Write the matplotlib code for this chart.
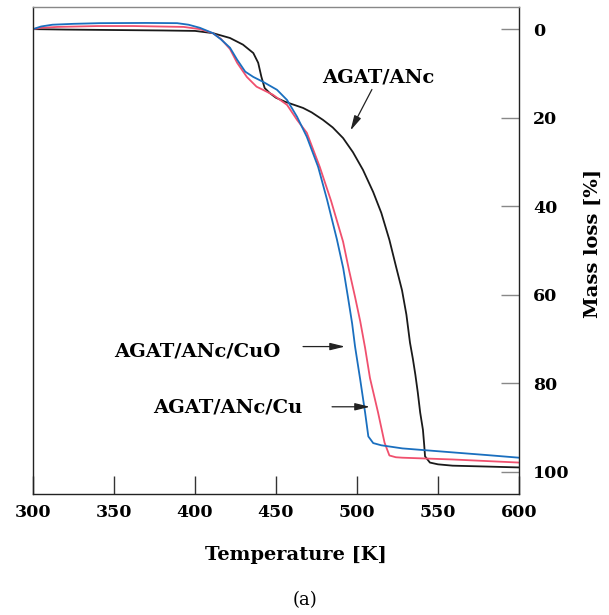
import matplotlib
matplotlib.use("Agg")
import matplotlib.pyplot as plt

# AGAT/ANc (black)
t_anc = [300, 320, 350, 380, 400, 411, 421.6, 429.6, 436, 439, 441, 443, 446, 450,
         455.6, 466.7, 472, 479, 485, 491.4, 497.5, 503.7, 510, 515, 520, 524, 527.8,
         530.5, 532.7, 534.5, 536, 537.5, 539, 540.7, 541.5, 542, 545, 550, 559, 580, 600]
m_anc = [0.0, 0.1, 0.2, 0.3, 0.4, 0.9, 2.0, 3.5, 5.4, 7.6, 10.8, 13.3, 14.4, 15.5,
         16.4, 17.8, 18.8, 20.5, 22.2, 24.6, 27.8, 31.8, 36.8, 41.5, 47.6, 53.5, 59.0,
         64.5, 70.8, 74.5, 78.0, 82.0, 86.6, 90.5, 94.0, 96.5, 97.9, 98.3, 98.6, 98.8, 99.0]

# AGAT/ANc/CuO (blue)
t_cuo = [300, 305, 312, 325, 341, 370, 389, 396, 403, 411, 416, 421.6, 426, 431, 436,
         442, 450.6, 456.8, 463, 469, 476, 481.5, 487.6, 491.5, 494.4, 497, 498.8, 502,
         505, 507, 510, 515, 528, 559, 580, 600]
m_cuo = [0.0, -0.6, -1.0, -1.2, -1.35, -1.4, -1.35, -1.0, -0.3, 0.9, 2.3, 4.2, 6.9, 9.6, 10.8,
         11.9, 13.7, 16.0, 19.8, 24.3, 31.1, 38.5, 47.5, 54.0, 60.5, 66.5, 71.7, 79.2,
         86.6, 92.0, 93.5, 94.0, 94.7, 95.6, 96.2, 96.8]

# AGAT/ANc/Cu (red)
t_cu = [300, 305, 315, 340, 362, 393, 403, 411, 416, 421.6, 426, 432, 438, 448, 456.8,
        463, 469, 477, 484, 491.4, 495, 498.8, 502, 505, 508, 513, 517, 520, 524, 528,
        559, 600]
m_cu = [0.0, -0.3, -0.5, -0.7, -0.7, -0.5, 0.0, 0.9, 2.2, 4.5, 7.6, 10.8, 13.0, 14.8, 17.1,
        20.5, 23.4, 31.1, 38.8, 48.0, 54.3, 60.5, 66.0, 72.0, 78.8, 86.6, 93.4, 96.3, 96.7, 96.8,
        97.2, 97.9]

x_ticks = [300, 350, 400, 450, 500, 550, 600]
y_ticks = [0, 20, 40, 60, 80, 100]

plt.rcParams['font.family'] = ['DejaVu Serif']

fig = plt.figure(figsize=(6.09, 6.15), dpi=100)
ax = fig.add_axes([33 / 609, 1 - 494 / 615, 486 / 609, 487 / 615])

ax.plot(t_anc, m_anc, color='#1a1a1a', lw=1.3)
ax.plot(t_cu, m_cu, color='#f0506e', lw=1.3)
ax.plot(t_cuo, m_cuo, color='#1a6fbf', lw=1.3)

ax.set_xlim(300, 600)
ax.set_ylim(105, -5)
ax.set_xticks(x_ticks)
ax.set_yticks(y_ticks)
ax.yaxis.tick_right()
ax.tick_params(axis='x', direction='in', length=13, width=1, color='#333333',
               labelsize=12.5, pad=7)
ax.tick_params(axis='y', direction='in', length=13, width=1, color='#888888',
               labelsize=12.5, pad=10)
for lab in ax.get_xticklabels() + ax.get_yticklabels():
    lab.set_fontweight('bold')

ax.spines['top'].set_color('#888888')
for s in ['left', 'right', 'bottom']:
    ax.spines[s].set_color('#222222')
for s in ax.spines.values():
    s.set_linewidth(1)

fig.text(296 / 609, 1 - 555 / 615, 'Temperature [K]', ha='center', va='center',
         fontsize=14, fontweight='bold')
fig.text(593 / 609, 1 - 243 / 615, 'Mass loss [%]', ha='center', va='center',
         rotation=90, fontsize=14, fontweight='bold')
fig.text(305 / 609, 1 - 600 / 615, '(a)', ha='center', va='center', fontsize=13)

arrow = dict(arrowstyle='-|>,head_length=0.9,head_width=0.22', color='#222222',
             lw=0.9, mutation_scale=10, shrinkA=0, shrinkB=0)
ax.annotate('AGAT/ANc', xy=(496, 22.9), xytext=(513, 13), ha='center', va='bottom',
            fontsize=14, fontweight='bold', arrowprops=arrow)
ax.text(401.5, 72.8, 'AGAT/ANc/CuO', ha='center', va='center', fontsize=14,
        fontweight='bold')
ax.annotate('', xy=(492.6, 71.7), xytext=(466.7, 71.7), arrowprops=arrow)
ax.text(420.5, 85.5, 'AGAT/ANc/Cu', ha='center', va='center', fontsize=14,
        fontweight='bold')
ax.annotate('', xy=(508, 85.3), xytext=(484.6, 85.3), arrowprops=arrow)

fig.savefig('out.png', dpi=100)
